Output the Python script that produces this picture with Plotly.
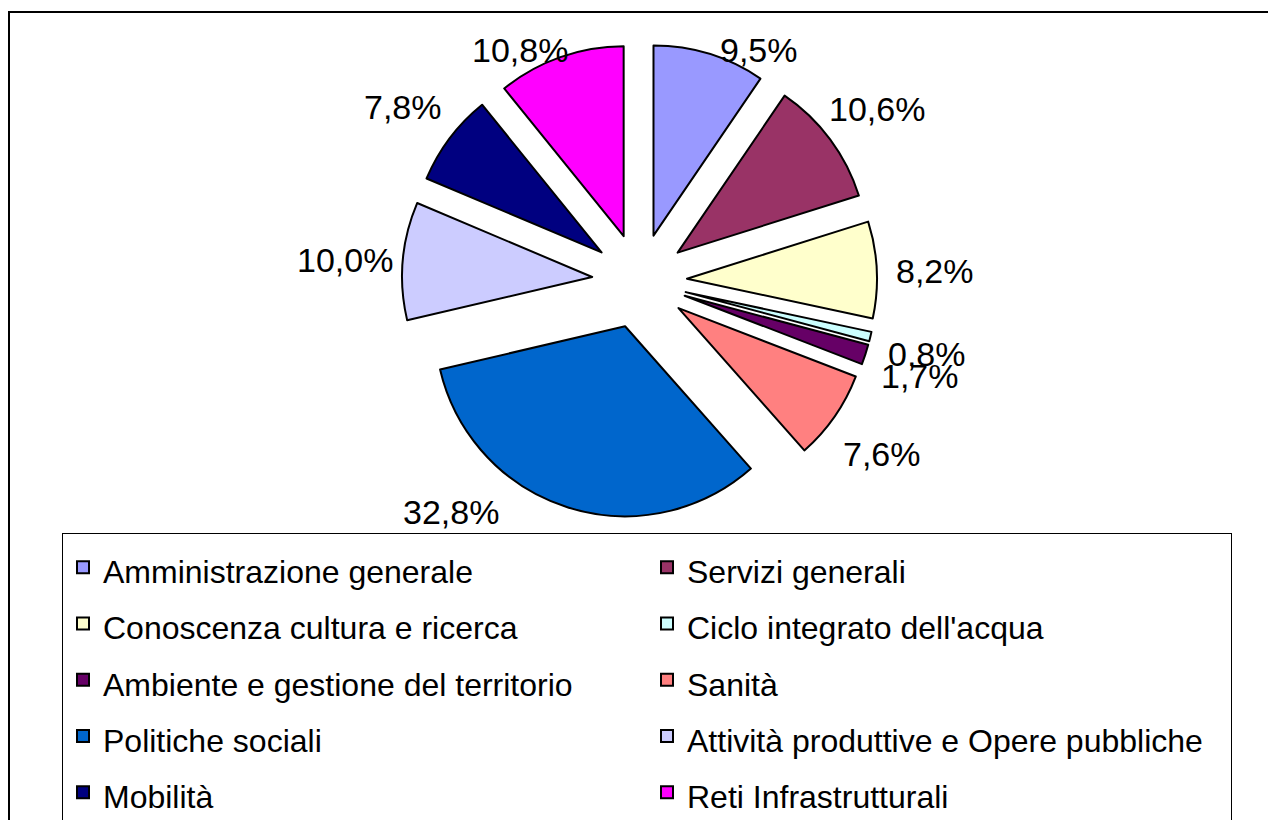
import math
import plotly.graph_objects as go

categories = ["Amministrazione generale", "Servizi generali", "Conoscenza cultura e ricerca",
              "Ciclo integrato dell'acqua", "Ambiente e gestione del territorio", "Sanità",
              "Politiche sociali", "Attività produttive e Opere pubbliche", "Mobilità",
              "Reti Infrastrutturali"]
values = [9.5, 10.6, 8.2, 0.8, 1.7, 7.6, 32.8, 10.0, 7.8, 10.8]
labels_txt = ["9,5%", "10,6%", "8,2%", "0,8%", "1,7%", "7,6%", "32,8%", "10,0%", "7,8%", "10,8%"]
colors = ["#9999FF", "#993366", "#FFFFCC", "#CCFFFF", "#660066", "#FF8080",
          "#0066CC", "#CCCCFF", "#000080", "#FF00FF"]

W, H = 1276, 820
OFF = 8  # page body margin
FONT = "Liberation Sans, Arial, sans-serif"
PULL = 0.25
LBL_FS = 34
LEG_TOP_PX = 533


def px_x(px):
    return (px - OFF) / W


def px_y(py):
    return 1 - (py - OFF) / H


dom_x = [px_x(402), px_x(877)]
dom_y = [px_y(518.5), px_y(43.5)]

# pie geometry in screen pixels (as plotly lays it out)
cx = OFF + (dom_x[0] + dom_x[1]) / 2 * W
cy = OFF + (1 - (dom_y[0] + dom_y[1]) / 2) * H
r = min((dom_x[1] - dom_x[0]) * W, (dom_y[1] - dom_y[0]) * H) / 2 / (1 + PULL)
D_LBL = r * (1 + PULL) + 58      # label centre distance from pie centre
D_TOP = r * (1 + PULL) + 26      # distance used when a label is held below the top
TOP_Y = 46                       # highest label centre (screen px)
HH = LBL_FS / 2

total = sum(values)
annotations = []
cum = 0.0
for v, t in zip(values, labels_txt):
    mid = (cum + v / 2) / total * 360.0
    cum += v

    def place(phi):
        s, c = math.sin(math.radians(phi)), math.cos(math.radians(phi))
        return cx + s * D_LBL, cy - c * D_LBL

    phi = mid
    lx, ly = place(phi)
    if ly < TOP_Y:
        ly = TOP_Y
        dx = math.sqrt(max(D_TOP ** 2 - (cy - ly) ** 2, 0))
        lx = cx + math.copysign(dx, math.sin(math.radians(mid)))
    step = -1 if math.sin(math.radians(mid)) > 0 else 1
    while ly + HH > LEG_TOP_PX - 5:
        phi += step
        lx, ly = place(phi)
    annotations.append(dict(x=px_x(lx), y=px_y(ly + 4), xref="paper", yref="paper",
                            text=t, showarrow=False, xanchor="center", yanchor="middle",
                            font=dict(family=FONT, size=LBL_FS, color="black")))

leg_labels = ['<span style="font-size:32px">' + c + '</span>' for c in categories]

fig = go.Figure(go.Pie(
    labels=leg_labels, values=values,
    textinfo="none",
    sort=False, direction="clockwise", rotation=0,
    pull=[PULL] * len(values),
    marker=dict(colors=colors, line=dict(color="black", width=2)),
    domain=dict(x=dom_x, y=dom_y),
    hovertext=categories, hoverinfo="text+percent",
))

fig.update_layout(
    width=W, height=H,
    margin=dict(l=0, r=0, t=0, b=0, autoexpand=False),
    paper_bgcolor="white",
    font=dict(family=FONT, color="black"),
    showlegend=True,
    legend=dict(
        orientation="h", x=px_x(62), y=px_y(LEG_TOP_PX), xanchor="left", yanchor="top",
        entrywidth=539, entrywidthmode="pixels",
        bordercolor="black", borderwidth=1, bgcolor="white",
        font=dict(family=FONT, size=41, color="black"),
        traceorder="normal",
    ),
    annotations=annotations,
    shapes=[dict(type="rect", xref="paper", yref="paper",
                 x0=px_x(9), x1=1.01, y0=-0.05, y1=px_y(12),
                 line=dict(color="black", width=2), layer="below")],
)

fig.write_html("out.html")
